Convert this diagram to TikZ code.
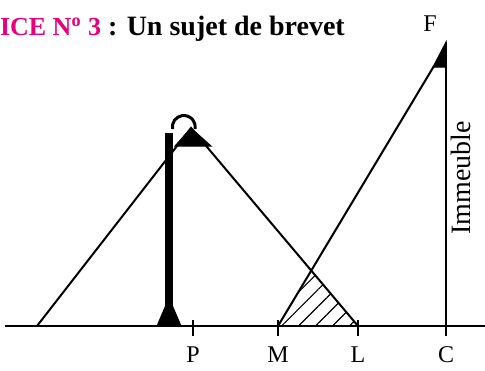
\documentclass[tikz,border=0pt]{standalone}
\usepackage{fontspec}
\setmainfont{Liberation Serif}
\usepackage{tikz}
\usetikzlibrary{patterns.meta}
\definecolor{exopink}{HTML}{E6007E}

\begin{document}
\begin{tikzpicture}[x=0.5pt, y=-0.5pt, line width=1pt,
    ptlabel/.style={font=\fontsize{12}{13}\selectfont},
    ticked/.style={line width=1pt},
    solidpart/.style={fill=black, draw=black, line width=0.5pt}]
  \useasboundingbox (0,0) rectangle (485,370);

  % titre
  \node[anchor=base west, inner sep=0pt, font=\bfseries\fontsize{14}{16}\selectfont] (titre) at (-1,35)
    {{\color{exopink}\fontsize{13}{14}\selectfont ICE N\textsuperscript{o} 3} : Un sujet de brevet};

  % points du sol
  \coordinate (G0) at (5,326);
  \coordinate (G1) at (485,326);
  \coordinate (A) at (37,326);
  \coordinate (P) at (193,326);
  \coordinate (M) at (278,326);
  \coordinate (L) at (358,326);
  \coordinate (C) at (446,326);
  \draw (G0) -- (G1);
  \foreach \p in {P,M,L,C}
    \draw[ticked] ([yshift=-5pt]\p) -- ([yshift=3pt]\p);
  \node[ptlabel] (labP) at (193,355) {P};
  \node[ptlabel] (labM) at (278,355) {M};
  \node[ptlabel] (labL) at (358,355) {L};
  \node[ptlabel] (labC) at (446,355) {C};

  % lampadaire
  \coordinate (S) at (191,128);
  \fill (165,133) rectangle (173,326);
  \filldraw[solidpart] (157,326) -- (181,326) -- (169,298) -- cycle;
  \draw[line width=1.5pt] (172.5,129) arc[start angle=170, end angle=370, radius=11.5];
  \filldraw[solidpart] (S) -- (175,146) -- (211,146) -- cycle;

  % immeuble
  \coordinate (F) at (446,42);
  \coordinate (Fb) at (434,66);
  \filldraw[solidpart] (F) -- (433,67) -- (446,67) -- cycle;
  \draw (F) -- (C);
  \node[font=\fontsize{12}{14}\selectfont] (labF) at (430,24) {F};
  \node[rotate=90, font=\fontsize{14}{16}\selectfont] (imm) at (461,178) {Immeuble};

  % zone hachuree
  \coordinate (X) at (intersection of M--Fb and S--L);
  \fill[pattern={Lines[angle=45, distance=6pt, line width=0.6pt]}] (M) -- (X) -- (L) -- cycle;

  % rayons
  \draw (A) -- (S) -- (L);
  \draw (M) -- (Fb);
\end{tikzpicture}
\end{document}
